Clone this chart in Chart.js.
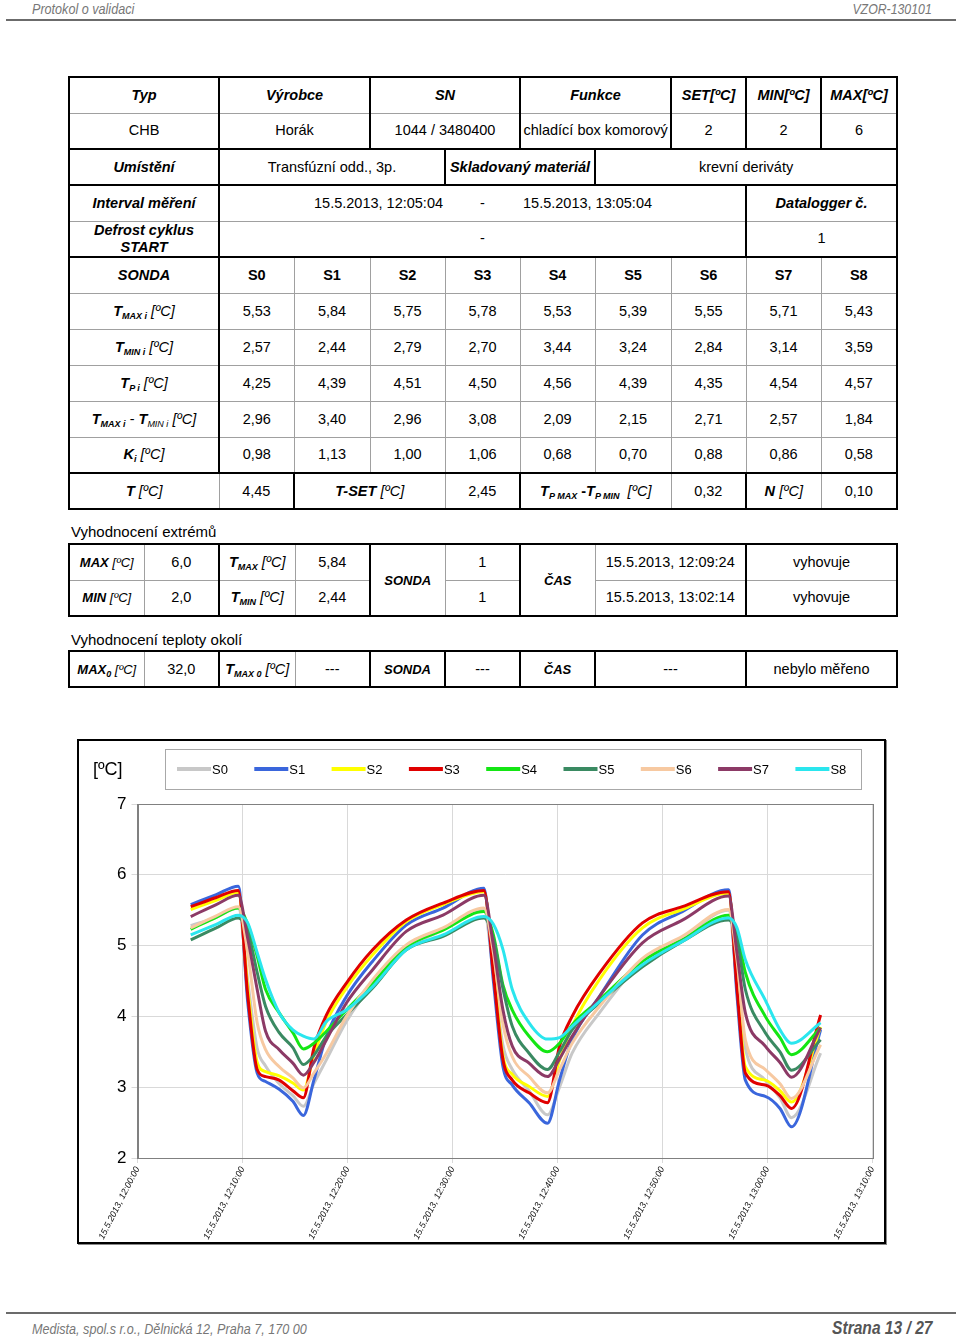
<!DOCTYPE html>
<html lang="cs">
<head>
<meta charset="UTF-8">
<title>Protokol o validaci</title>
<script src="https://cdn.jsdelivr.net/npm/chart.js"></script>
<style>
    body { margin: 0; width: 960px; height: 1340px; position: relative; overflow: hidden; background: #fff; color: #000;
           font-family: "Liberation Sans", Arial, sans-serif; }
    .hdr { position: absolute; top: 0; font-size: 15px; font-style: italic; color: #777; white-space: nowrap; }
    .nl { transform: scaleX(0.84); transform-origin: left top; }
    .nr { transform: scaleX(0.82); transform-origin: right top; }
    .rule { position: absolute; left: 6px; width: 950px; height: 2px; background: #6b6b6b; }
    table { position: absolute; left: 68px; width: 828px; border-collapse: collapse; table-layout: fixed; border: 2px solid #000; }
    td { border: 1px solid #a0a0a0; text-align: center; padding: 0; font-size: 14.5px; line-height: 17px; }
    tr { height: 36px; }
    .h { font-weight: bold; font-style: italic; }
    .b { font-weight: bold; }
    .br { border-right: 2px solid #000; }
    .bl { border-left: 2px solid #000; }
    .bb td { border-bottom: 2px solid #000; }
    .nb { border-left: none; border-right: none; }
    sub { font-size: 9px; vertical-align: -3px; line-height: 0; }
    .lbl { position: absolute; left: 71px; font-size: 15px; }
    .small .h { font-size: 13px; }
    #box { position: absolute; left: 77px; top: 739px; width: 805px; height: 501px; border: 2px solid #000; box-shadow: 1px 1px 0 #888; }
    #box canvas { position: absolute; left: 0; top: 0; }
</style>
</head>
<body>
<div class="hdr nl" style="left:32px;">Protokol o validaci</div>
<div class="hdr nr" style="right:28px;">VZOR-130101</div>
<div class="rule" style="top:19px;"></div>

<table style="top:76px;">
    <colgroup>
        <col style="width:150px"><col style="width:75px"><col style="width:76px"><col style="width:75px"><col style="width:75px">
        <col style="width:75px"><col style="width:76px"><col style="width:75px"><col style="width:75px"><col style="width:76px">
    </colgroup>
    <tr>
        <td class="h br">Typ</td><td class="h br" colspan="2">Výrobce</td><td class="h br" colspan="2">SN</td>
        <td class="h br" colspan="2">Funkce</td><td class="h br">SET[ºC]</td><td class="h br">MIN[ºC]</td><td class="h">MAX[ºC]</td>
    </tr>
    <tr class="bb">
        <td class="br">CHB</td><td class="br" colspan="2">Horák</td><td class="br" colspan="2">1044 / 3480400</td>
        <td class="br" colspan="2">chladící box komorový</td><td class="br">2</td><td class="br">2</td><td>6</td>
    </tr>
    <tr class="bb">
        <td class="h br">Umístění</td><td class="br" colspan="3">Transfúzní odd., 3p.</td>
        <td class="h br" colspan="2">Skladovaný materiál</td><td colspan="4">krevní deriváty</td>
    </tr>
    <tr>
        <td class="h br">Interval měření</td><td class="nb"></td>
        <td class="nb" colspan="2" style="padding-left:18px;">15.5.2013, 12:05:04</td><td class="nb">-</td>
        <td class="nb" colspan="2" style="padding-right:16px;">15.5.2013, 13:05:04</td><td class="nb"></td>
        <td class="h bl" colspan="2">Datalogger č.</td>
    </tr>
    <tr class="bb">
        <td class="h br">Defrost cyklus<br>START</td><td colspan="7">-</td><td class="bl" colspan="2">1</td>
    </tr>
    <tr>
        <td class="h br">SONDA</td><td class="b">S0</td><td class="b">S1</td><td class="b">S2</td><td class="b">S3</td>
        <td class="b">S4</td><td class="b">S5</td><td class="b">S6</td><td class="b">S7</td><td class="b">S8</td>
    </tr>
    <tr>
        <td class="br"><b><i>T</i></b><b><i><sub>MAX i</sub></i></b> <i>[ºC]</i></td>
        <td>5,53</td><td>5,84</td><td>5,75</td><td>5,78</td><td>5,53</td><td>5,39</td><td>5,55</td><td>5,71</td><td>5,43</td>
    </tr>
    <tr>
        <td class="br"><b><i>T</i></b><b><i><sub>MIN i</sub></i></b> <i>[ºC]</i></td>
        <td>2,57</td><td>2,44</td><td>2,79</td><td>2,70</td><td>3,44</td><td>3,24</td><td>2,84</td><td>3,14</td><td>3,59</td>
    </tr>
    <tr>
        <td class="br"><b><i>T</i></b><b><i><sub>P i</sub></i></b> <i>[ºC]</i></td>
        <td>4,25</td><td>4,39</td><td>4,51</td><td>4,50</td><td>4,56</td><td>4,39</td><td>4,35</td><td>4,54</td><td>4,57</td>
    </tr>
    <tr>
        <td class="br"><b><i>T</i></b><b><i><sub>MAX i</sub></i></b> - <b><i>T</i></b><i><sub>MIN i</sub></i> <i>[ºC]</i></td>
        <td>2,96</td><td>3,40</td><td>2,96</td><td>3,08</td><td>2,09</td><td>2,15</td><td>2,71</td><td>2,57</td><td>1,84</td>
    </tr>
    <tr class="bb">
        <td class="br"><b><i>K</i></b><b><i><sub>i</sub></i></b> <i>[ºC]</i></td>
        <td>0,98</td><td>1,13</td><td>1,00</td><td>1,06</td><td>0,68</td><td>0,70</td><td>0,88</td><td>0,86</td><td>0,58</td>
    </tr>
    <tr>
        <td><b><i>T</i></b> <i>[ºC]</i></td><td class="br">4,45</td>
        <td colspan="2"><b><i>T-SET</i></b> <i>[ºC]</i></td><td class="br">2,45</td>
        <td colspan="2"><b><i>T</i></b><b><i><sub>P MAX</sub></i></b> <b>-</b><b><i>T</i></b><b><i><sub>P MIN</sub></i></b> &nbsp;<i>[ºC]</i></td>
        <td class="br">0,32</td><td><b><i>N</i></b> <i>[ºC]</i></td><td>0,10</td>
    </tr>
</table>

<div class="lbl" style="top:523px;">Vyhodnocení extrémů</div>
<table class="small" style="top:543px;">
    <colgroup>
        <col style="width:75px"><col style="width:75px"><col style="width:76px"><col style="width:75px"><col style="width:75px">
        <col style="width:75px"><col style="width:75px"><col style="width:151px"><col style="width:151px">
    </colgroup>
    <tr>
        <td class="h">MAX<i style="font-weight:normal"> [ºC]</i></td><td class="br">6,0</td>
        <td><b><i>T</i></b><b><i><sub>MAX</sub></i></b> <i>[ºC]</i></td><td class="br">5,84</td>
        <td class="h" rowspan="2">SONDA</td><td class="br">1</td>
        <td class="h" rowspan="2">ČAS</td><td class="br">15.5.2013, 12:09:24</td><td>vyhovuje</td>
    </tr>
    <tr>
        <td class="h">MIN<i style="font-weight:normal"> [ºC]</i></td><td class="br">2,0</td>
        <td><b><i>T</i></b><b><i><sub>MIN</sub></i></b> <i>[ºC]</i></td><td class="br">2,44</td>
        <td class="br">1</td><td class="br">15.5.2013, 13:02:14</td><td>vyhovuje</td>
    </tr>
</table>

<div class="lbl" style="top:631px;">Vyhodnocení teploty okolí</div>
<table class="small" style="top:650px;">
    <colgroup>
        <col style="width:75px"><col style="width:75px"><col style="width:76px"><col style="width:75px"><col style="width:75px">
        <col style="width:75px"><col style="width:75px"><col style="width:151px"><col style="width:151px">
    </colgroup>
    <tr>
        <td class="h">MAX<sub>0</sub><i style="font-weight:normal"> [ºC]</i></td><td class="br">32,0</td>
        <td><b><i>T</i></b><b><i><sub>MAX 0</sub></i></b> <i>[ºC]</i></td><td class="br">---</td>
        <td class="h br">SONDA</td><td class="br">---</td>
        <td class="h br">ČAS</td><td class="br">---</td><td>nebylo měřeno</td>
    </tr>
</table>

<div id="box"><canvas id="chart" width="805" height="501"></canvas></div>

<div class="rule" style="top:1312px;"></div>
<div class="hdr nl" style="left:32px; top:1320px;">Medista, spol.s r.o., Dělnická 12, Praha 7, 170 00</div>
<div class="hdr nr" style="right:27px; top:1317px; font-size:19px; font-weight:bold; color:#555;">Strana 13 / 27</div>

<script>
// minutes after 12:00 for each reading
const minutes = [5.07, 7.5, 9.6, 10.5, 11.4, 12.2, 13.5, 14.8, 15.8, 16.8, 18.0, 19.9, 22.4, 25.6, 29.1, 33.0, 33.9,
                 34.8, 35.7, 37.3, 39.05, 40.2, 41.4, 44.0, 48.1, 51.9, 56.3, 57.1, 57.9, 59.8, 61.2, 62.3, 65.07];

const probes = ['S0', 'S1', 'S2', 'S3', 'S4', 'S5', 'S6', 'S7', 'S8'];
const colors = ['#c8c8c8', '#3a66dc', '#ffff00', '#e00000', '#14e614', '#3a8a62', '#f7c9a1', '#8c3a66', '#2ae6ee'];

const S0 = [5.28, 5.40, 5.53, 4.50, 3.55, 3.30, 3.05, 2.88, 2.73, 3.05, 3.39, 3.93, 4.45, 4.95, 5.22, 5.50, 4.60,
            3.60, 3.25, 2.95, 2.61, 3.00, 3.48, 4.05, 4.78, 5.10, 5.50, 4.50, 3.55, 3.10, 2.85, 2.57, 3.48];
const S1 = [5.58, 5.72, 5.84, 4.20, 3.20, 3.08, 2.97, 2.80, 2.60, 3.10, 3.72, 4.28, 4.78, 5.29, 5.53, 5.81, 4.50,
            3.30, 3.03, 2.78, 2.49, 3.10, 3.67, 4.28, 5.15, 5.48, 5.79, 4.30, 3.10, 2.87, 2.70, 2.44, 3.81];
const S2 = [5.51, 5.64, 5.75, 4.40, 3.35, 3.22, 3.16, 3.06, 2.96, 3.45, 3.93, 4.40, 4.87, 5.34, 5.58, 5.76, 4.70,
            3.45, 3.18, 3.01, 2.87, 3.38, 3.86, 4.52, 5.25, 5.51, 5.74, 4.50, 3.29, 3.10, 2.95, 2.79, 3.85];
const S3 = [5.55, 5.68, 5.78, 4.30, 3.25, 3.15, 3.10, 2.95, 2.85, 3.55, 4.02, 4.47, 4.94, 5.36, 5.60, 5.78, 4.60,
            3.40, 3.10, 2.92, 2.78, 3.58, 4.00, 4.61, 5.32, 5.55, 5.76, 4.40, 3.20, 3.03, 2.88, 2.70, 4.02];
const S4 = [5.23, 5.40, 5.53, 5.30, 4.85, 4.38, 4.05, 3.77, 3.54, 3.62, 3.79, 4.09, 4.47, 4.98, 5.22, 5.48, 5.15,
            4.45, 4.09, 3.72, 3.50, 3.62, 3.88, 4.23, 4.78, 5.08, 5.43, 5.20, 4.62, 4.00, 3.70, 3.46, 3.84];
const S5 = [5.08, 5.25, 5.39, 5.20, 4.62, 4.14, 3.77, 3.56, 3.32, 3.45, 3.72, 4.02, 4.40, 4.94, 5.13, 5.39, 5.10,
            4.40, 3.86, 3.48, 3.25, 3.50, 3.81, 4.19, 4.70, 5.06, 5.36, 5.10, 4.38, 3.77, 3.50, 3.24, 3.67];
const S6 = [5.25, 5.42, 5.55, 4.90, 3.91, 3.53, 3.29, 3.13, 2.99, 3.20, 3.48, 4.00, 4.52, 5.01, 5.25, 5.53, 4.90,
            3.90, 3.43, 3.15, 2.92, 3.25, 3.62, 4.14, 4.82, 5.13, 5.51, 4.80, 3.67, 3.25, 3.05, 2.84, 3.60];
const S7 = [5.41, 5.58, 5.71, 5.10, 4.38, 3.79, 3.53, 3.34, 3.17, 3.35, 3.67, 4.19, 4.66, 5.20, 5.43, 5.71, 5.00,
            4.10, 3.58, 3.34, 3.15, 3.40, 3.72, 4.28, 5.04, 5.36, 5.70, 4.90, 4.05, 3.58, 3.35, 3.14, 3.84];
const S8 = [5.15, 5.30, 5.43, 5.32, 4.90, 4.52, 4.05, 3.81, 3.72, 3.68, 3.93, 4.09, 4.42, 4.94, 5.15, 5.41, 5.30,
            4.95, 4.38, 3.91, 3.68, 3.70, 3.86, 4.21, 4.73, 5.06, 5.39, 5.25, 4.80, 4.23, 3.81, 3.62, 3.91];

const tickLabels = ['15.5.2013, 12:00:00', '15.5.2013, 12:10:00', '15.5.2013, 12:20:00', '15.5.2013, 12:30:00',
                    '15.5.2013, 12:40:00', '15.5.2013, 12:50:00', '15.5.2013, 13:00:00', '15.5.2013, 13:10:00'];

const series = [S0, S1, S2, S3, S4, S5, S6, S7, S8];

// legend in a framed box + unit label, plot frame
const extras = {
    id: 'extras',
    afterDraw(chart) {
        const ctx = chart.ctx, a = chart.chartArea;
        ctx.save();
        ctx.strokeStyle = '#808080';
        ctx.lineWidth = 1;
        ctx.strokeRect(Math.round(a.left) + 0.5, Math.round(a.top) + 0.5, Math.round(a.right - a.left), Math.round(a.bottom - a.top));
        ctx.strokeStyle = '#a8a8a8';
        ctx.strokeRect(86.5, 8.5, 696, 40);
        ctx.textBaseline = 'middle';
        chart.data.datasets.forEach((ds, i) => {
            const x = 98 + i * 77.3;
            ctx.strokeStyle = ds.borderColor;
            ctx.lineWidth = 4;
            ctx.beginPath(); ctx.moveTo(x, 28); ctx.lineTo(x + 34, 28); ctx.stroke();
            ctx.fillStyle = '#000';
            ctx.font = '13px "Liberation Sans", sans-serif';
            ctx.fillText(ds.label, x + 35, 29);
        });
        ctx.font = '18px "Liberation Sans", sans-serif';
        ctx.fillText('[ºC]', 14, 29);
        ctx.restore();
    }
};

new Chart(document.getElementById('chart'), {
    type: 'line',
    data: {
        datasets: probes.map((p, i) => ({
            label: p,
            data: minutes.map((t, j) => ({ x: t, y: series[i][j] })),
            borderColor: colors[i],
            borderWidth: 3,
            pointRadius: 0,
            cubicInterpolationMode: 'monotone',
            order: 9 - i
        }))
    },
    options: {
        responsive: false,
        animation: false,
        layout: { padding: { top: 63, right: 10, left: 0, bottom: 0 } },
        plugins: { legend: { display: false }, tooltip: { enabled: false } },
        scales: {
            x: {
                type: 'linear', min: 0, max: 70,
                afterFit: s => { s.height = 84; },
                grid: { color: '#d9d9d9', tickLength: 5 },
                border: { color: '#808080' },
                ticks: {
                    stepSize: 10, autoSkip: false, minRotation: 63, maxRotation: 63, padding: 2,
                    color: '#111', font: { size: 9, style: 'italic', family: '"Liberation Sans", sans-serif' },
                    callback: v => tickLabels[v / 10]
                }
            },
            y: {
                min: 2, max: 7,
                afterFit: s => { s.width = 58.5; },
                grid: { color: '#d9d9d9', tickLength: 6 },
                border: { color: '#808080' },
                ticks: { stepSize: 1, padding: 5, color: '#000', font: { size: 17, family: '"Liberation Sans", sans-serif' } }
            }
        }
    },
    plugins: [extras]
});
</script>
</body>
</html>
